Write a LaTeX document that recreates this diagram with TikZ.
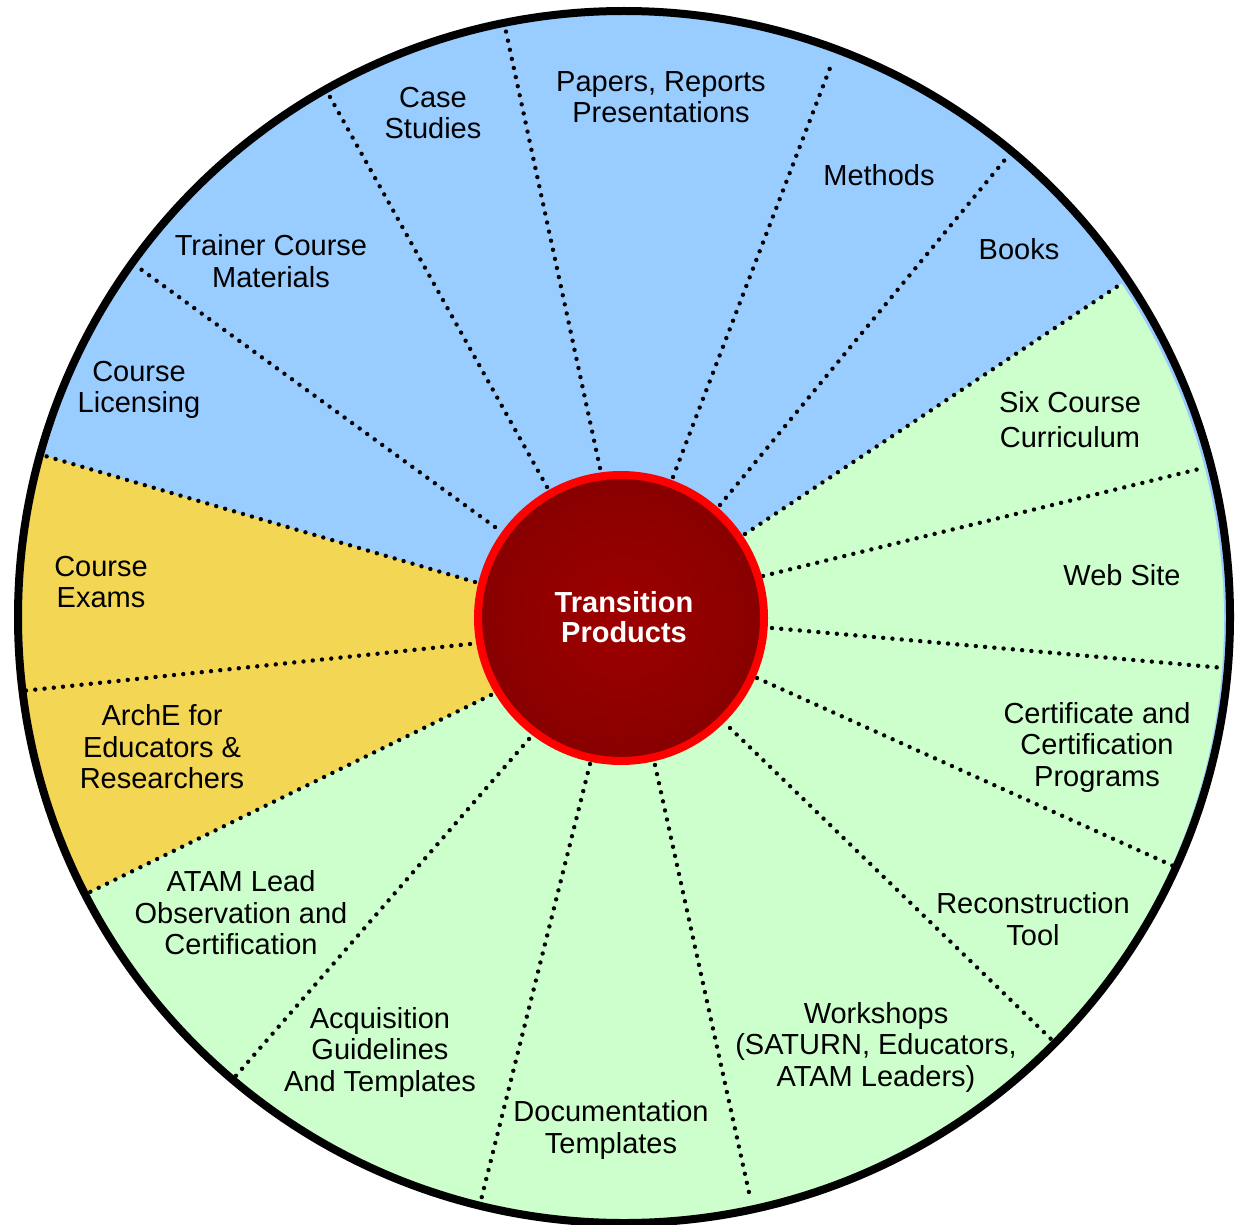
\documentclass[tikz,border=0pt]{standalone}
\usepackage{fontspec}
\setmainfont{Liberation Sans}
\usetikzlibrary{calc}

\definecolor{sectblue}{HTML}{99CCFF}
\definecolor{sectgreen}{HTML}{CCFFCC}
\definecolor{sectgold}{HTML}{F2D654}
\definecolor{hubrim}{HTML}{FF0000}
% dark red disc, a little brighter in the middle
\pgfdeclareradialshading{hubshade}{\pgfpoint{0bp}{0bp}}{rgb(0bp)=(0.62,0,0); rgb(20bp)=(0.55,0,0); rgb(50bp)=(0.44,0,0)}

\begin{document}
\begin{tikzpicture}[x=1pt,y=-1pt,
  divider/.style={line width=4.4pt, line cap=round, dash pattern=on 0pt off 9.3pt},
  lbl/.style={align=center, inner sep=0pt, font=\fontsize{29}{31.5}\selectfont},
  hubnode/.style={circle, minimum size=286pt, inner sep=0pt, shade, shading=hubshade,
    draw=hubrim, line width=8pt},
  hubtext/.style={text=white, align=center, inner sep=0pt,
    font=\bfseries\fontsize{29}{30}\selectfont}]

\useasboundingbox (0,0) rectangle (1242,1225);

% centre of the wheel and the ends of the sixteen dividers
\coordinate (c) at (621,618);
\coordinate (i1) at (600,468);   \coordinate (o1) at (505,27);
\coordinate (i2) at (673,477);   \coordinate (o2) at (830,68);
\coordinate (i3) at (720,505);   \coordinate (o3) at (1008,156);
\coordinate (i4) at (745,534);   \coordinate (o4) at (1121,284);
\coordinate (i5) at (763,576);   \coordinate (o5) at (1199,469);
\coordinate (i6) at (772,628);   \coordinate (o6) at (1224,668);
\coordinate (i7) at (757,678);   \coordinate (o7) at (1180,869);
\coordinate (i8) at (730,728);   \coordinate (o8) at (1053,1041);
\coordinate (i9) at (655,765);   \coordinate (o9) at (750,1197);
\coordinate (i10) at (590,764);  \coordinate (o10) at (481,1200);
\coordinate (i11) at (529,739);  \coordinate (o11) at (234,1078);
\coordinate (i12) at (491,695);  \coordinate (o12) at (88,893);
\coordinate (i13) at (470,644);  \coordinate (o13) at (22,691);
\coordinate (i14) at (475,582);  \coordinate (o14) at (42,455);
\coordinate (i15) at (495,527);  \coordinate (o15) at (135,265);
\coordinate (i16) at (547,487);  \coordinate (o16) at (325,88);

% sector fills
\begin{scope}
  \clip (624,617) circle [radius=606pt];
  \fill[sectblue] (0,0) rectangle (1242,1225);
  \fill[sectgold] (c) -- (i12) -- ($(i12)!1.3!(o12)$) -- (-150,1000) -- (-150,400)
    -- ($(i14)!1.3!(o14)$) -- (i14) -- cycle;
\end{scope}
\begin{scope}
  \clip (621,620) circle [radius=603pt];
  \fill[sectgreen] (c) -- (i4) -- ($(i4)!1.3!(o4)$) -- (1400,200) -- (1400,1400)
    -- (-100,1400) -- ($(i12)!1.3!(o12)$) -- (i12) -- cycle;
\end{scope}

% dotted dividers
\foreach \k in {1,...,16}
  \draw[divider] (i\k) -- (o\k);

% rim of the wheel
\draw[line width=8pt] (624,617) circle [radius=606pt];

% hub
\node[hubnode] (hub) at (c) {};
\node[hubtext] (hubL) at (624,617) {Transition\\Products};

% sector labels
\node[lbl] (caseL) at (433,113) {Case\\Studies};
\node[lbl] (papersL) at (661,97) {Papers, Reports\\Presentations};
\node[lbl] (methodsL) at (879,175) {Methods};
\node[lbl] (booksL) at (1019,249) {Books};
\node[lbl] (sixL) at (1070,420) {Six Course\\[3.5pt]Curriculum};
\node[lbl] (webL) at (1122,575) {Web Site};
\node[lbl] (certL) at (1097,747) {Certificate and\\Certification\\Programs};
\node[lbl] (reconL) at (1033,919) {Reconstruction\\Tool};
\node[lbl] (workL) at (876,1047) {Workshops\\(SATURN, Educators,\\ATAM Leaders)};
\node[lbl] (docL) at (611,1130) {Documentation\\Templates};
\node[lbl] (acqL) at (380,1052) {Acquisition\\Guidelines\\And Templates};
\node[lbl] (atamL) at (241,913) {ATAM Lead\\Observation and\\Certification};
\node[lbl] (archeL) at (162,747) {ArchE for\\Educators \&\\Researchers};
\node[lbl] (examsL) at (101,582) {Course\\Exams};
\node[lbl] (licL) at (139,390) {Course\\Licensing};
\node[lbl] (trainL) at (271,261) {Trainer Course\\Materials};
\end{tikzpicture}
\end{document}
